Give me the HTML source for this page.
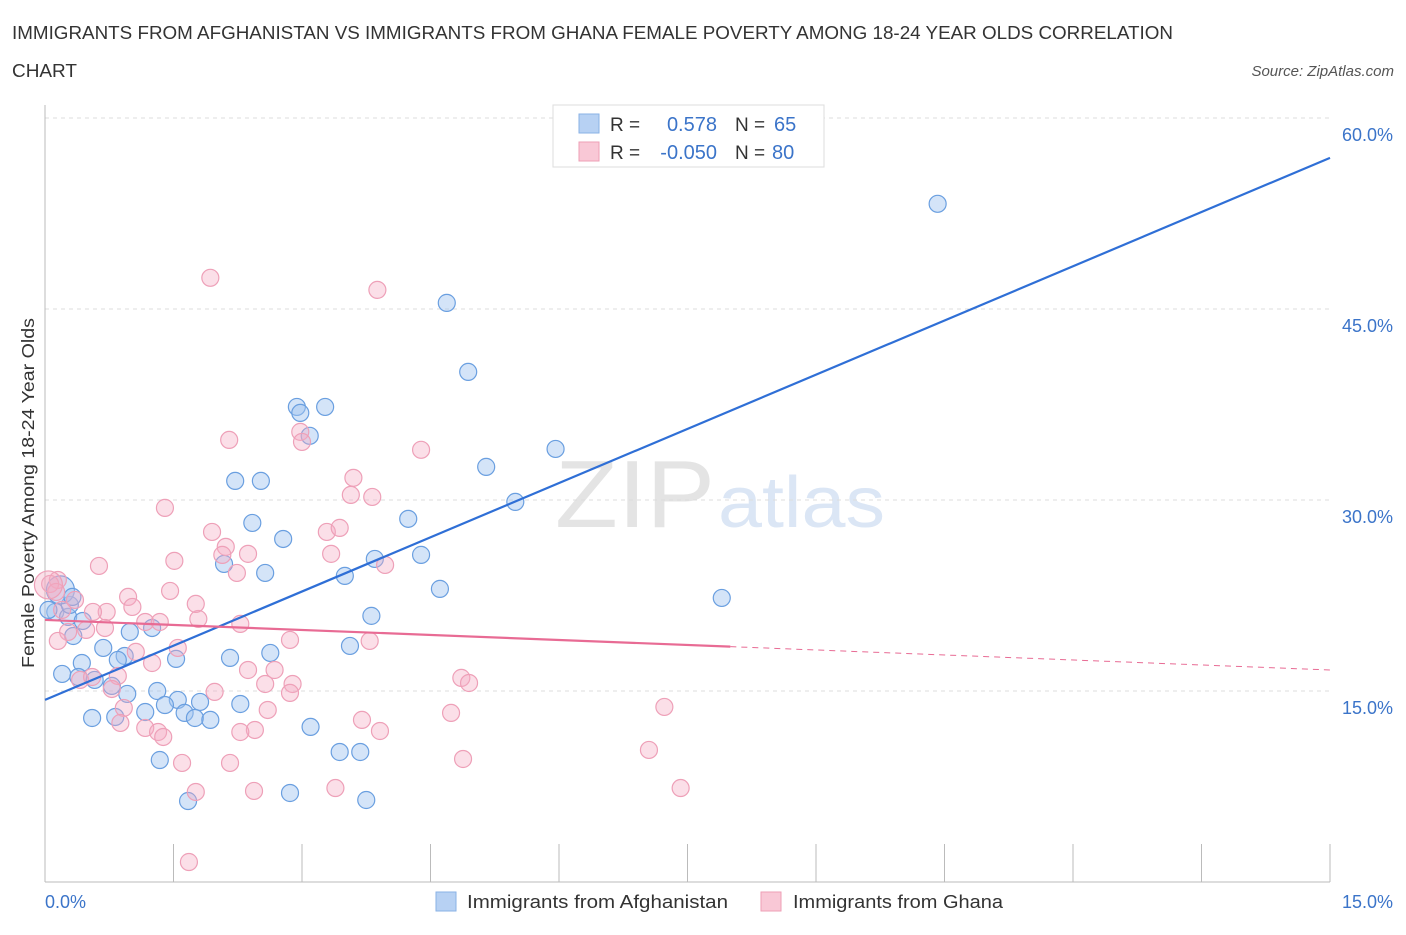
<!DOCTYPE html>
<html><head><meta charset="utf-8">
<style>
body{margin:0;background:#fff;font-family:"Liberation Sans",sans-serif;}
svg text{font-family:"Liberation Sans",sans-serif;}
</style></head>
<body>
<svg id="chart" width="1406" height="930" xmlns="http://www.w3.org/2000/svg">
<text x="12" y="39" font-size="18.5" fill="#333" textLength="1161" lengthAdjust="spacingAndGlyphs">IMMIGRANTS FROM AFGHANISTAN VS IMMIGRANTS FROM GHANA FEMALE POVERTY AMONG 18-24 YEAR OLDS CORRELATION</text>
<text x="12" y="77" font-size="18.5" fill="#333" textLength="65" lengthAdjust="spacingAndGlyphs">CHART</text>
<text x="1394" y="76" font-size="15" fill="#555" font-style="italic" text-anchor="end">Source: ZipAtlas.com</text>
<text x="555" y="527" font-size="96" fill="#e4e4e4" font-family="Liberation Serif" textLength="160" lengthAdjust="spacingAndGlyphs">ZIP</text>
<text x="718" y="527" font-size="72" fill="#dbe6f5" textLength="167" lengthAdjust="spacingAndGlyphs">atlas</text>
<g id="grid"></g>
<g id="axes"></g>
<g id="marks"></g>
<g id="lines"></g>
<text transform="translate(34,493) rotate(-90)" font-size="17.5" fill="#333" text-anchor="middle" textLength="350" lengthAdjust="spacingAndGlyphs">Female Poverty Among 18-24 Year Olds</text>
<text x="45" y="908" font-size="18" fill="#3b74c9">0.0%</text>
<text x="1393" y="908" font-size="18" fill="#3b74c9" text-anchor="end">15.0%</text>
<g>
<rect x="553" y="105" width="271" height="62" fill="#fff" stroke="#ddd"/>
<rect x="579" y="114" width="20" height="19" fill="#b7d1f3" stroke="#8ab2e6"/>
<rect x="579" y="142" width="20" height="19" fill="#f9c8d6" stroke="#ee9fb6"/>
<text x="610" y="131" font-size="19" fill="#333">R =</text>
<text x="717" y="131" font-size="20" fill="#3b74c9" text-anchor="end">0.578</text>
<text x="735" y="131" font-size="19" fill="#333">N =</text>
<text x="774" y="131" font-size="20" fill="#3b74c9">65</text>
<text x="610" y="159" font-size="19" fill="#333">R =</text>
<text x="717" y="159" font-size="20" fill="#3b74c9" text-anchor="end">-0.050</text>
<text x="735" y="159" font-size="19" fill="#333">N =</text>
<text x="772" y="159" font-size="20" fill="#3b74c9">80</text>
</g>
<g>
<rect x="436" y="892" width="20" height="19" fill="#b7d1f3" stroke="#8ab2e6"/>
<text x="467" y="908" font-size="18.5" fill="#333" textLength="261" lengthAdjust="spacingAndGlyphs">Immigrants from Afghanistan</text>
<rect x="761" y="892" width="20" height="19" fill="#f9c8d6" stroke="#ee9fb6"/>
<text x="793" y="908" font-size="18.5" fill="#333" textLength="210" lengthAdjust="spacingAndGlyphs">Immigrants from Ghana</text>
</g>
</svg>
<script>
const yTicks=[15,30,45,60];
const yTickLabels=["15.0%","30.0%","45.0%","60.0%"];
const xTicks=[0,1.5,3,4.5,6,7.5,9,10.5,12,13.5,15];
const blueX=[10.42,4.69,4.94,2.94,3.27,2.98,3.09,5.15,5.96,2.22,2.52,5.49,4.24,2.42,2.78,4.39,3.85,2.09,2.57,3.50,4.61,7.90,3.81,3.56,0.12,0.27,0.29,0.44,0.33,0.68,1.25,0.99,0.93,0.85,0.43,1.53,2.16,2.63,0.20,0.39,0.58,0.78,0.96,1.31,1.55,1.81,2.28,0.82,0.55,1.17,1.40,1.63,1.75,1.93,3.10,3.44,3.68,1.67,2.86,3.75,1.34,0.18,0.32,0.04];
const blueY=[53.26,45.48,40.06,37.31,37.31,36.84,35.04,32.60,34.01,31.50,31.50,29.85,28.52,28.20,26.94,25.69,25.37,24.98,24.27,24.04,23.02,22.31,20.90,18.54,21.21,20.82,21.76,20.50,19.32,18.38,19.95,19.64,17.75,17.44,17.20,17.52,17.60,17.99,16.34,16.10,15.87,15.40,14.77,15.00,14.30,14.14,13.98,12.96,12.88,13.35,13.90,13.28,12.88,12.73,12.18,10.21,10.21,6.36,6.99,6.44,9.58,22.94,22.39,21.37];
const pinkX=[1.93,3.88,2.98,3.00,2.15,4.39,3.60,3.57,3.82,1.40,1.95,2.11,2.07,2.37,3.29,3.44,3.34,3.97,2.24,1.51,0.63,0.97,1.02,0.72,0.56,0.15,0.06,0.13,0.35,0.20,0.27,0.15,0.70,0.48,1.17,1.34,1.06,1.25,1.55,1.79,2.28,1.46,1.76,2.86,3.79,2.68,2.57,2.89,2.86,1.98,2.37,0.41,0.55,0.85,0.78,0.92,0.88,1.17,1.32,1.38,2.60,2.45,2.28,3.70,3.91,4.74,4.86,4.95,7.23,7.05,4.88,1.60,2.16,3.39,2.44,1.76,7.42,1.68,0.04];
const pinkY=[47.45,46.50,35.35,34.56,34.72,33.94,31.74,30.40,30.24,29.38,27.49,26.32,25.69,25.77,27.49,27.81,25.77,24.90,24.27,25.22,24.82,22.39,21.60,21.21,21.21,23.72,23.41,22.78,22.15,21.37,19.64,18.93,19.95,19.80,20.42,20.42,18.07,17.20,18.38,20.66,20.27,22.86,21.84,19.01,18.93,16.65,15.55,15.55,14.85,14.93,16.65,15.87,16.10,16.18,15.16,13.67,12.49,12.10,11.78,11.39,13.51,11.94,11.78,12.73,11.86,13.28,16.03,15.63,13.75,10.37,9.66,9.35,9.35,7.38,7.15,7.07,7.38,1.57,23.33];
const blueTrend=[14.30,56.87];
const pinkTrend=[20.58,16.65];
const pinkSolidEnd=8.0;

const NS="http://www.w3.org/2000/svg";
const X0=45,X1=1330,Y0=882,Y60=118;
const sx=v=>X0+(v/15)*(X1-X0);
const sy=v=>Y0-(v/60)*(Y0-Y60);
function mk(tag,attrs,parent){const e=document.createElementNS(NS,tag);for(const k in attrs)e.setAttribute(k,attrs[k]);document.getElementById(parent).appendChild(e);return e;}

yTicks.forEach((t,i)=>{
  const g=mk('line',{x1:X0,x2:X1,y1:sy(t),y2:sy(t),stroke:'#ddd','stroke-dasharray':'4,4'},'grid');
  
  
  const l=mk('text',{x:1393,y:sy(t)+23,'font-size':18,fill:'#3b74c9','text-anchor':'end'},'grid');
  l.textContent=yTickLabels[i];
  
  
});
const ax=mk('line',{x1:X0,x2:X0,y1:105,y2:Y0,stroke:'#bbb'},'axes');


const bx=mk('line',{x1:X0,x2:X1,y1:Y0,y2:Y0,stroke:'#bbb'},'axes');


xTicks.forEach(t=>{
  const e=mk('line',{x1:sx(t),x2:sx(t),y1:Y0-38,y2:Y0,stroke:'#bbb'},'axes');
  
  
});
function pts(xs,ys,fill,stroke,name,bigIdx){
  xs.forEach((x,i)=>{
    const c=mk('circle',{cx:sx(x),cy:sy(ys[i]),r:i===bigIdx?14:8.5,fill:fill,stroke:stroke,'stroke-width':1.2},'marks');
    
    
  });
}
pts(blueX,blueY,'rgba(160,196,240,0.45)','#6a9fe0','afghanistan-point',61);
pts(pinkX,pinkY,'rgba(245,170,195,0.38)','#eea0b8','ghana-point',78);
const bl=mk('line',{x1:sx(0),y1:sy(blueTrend[0]),x2:sx(15),y2:sy(blueTrend[1]),stroke:'#2f6fd6','stroke-width':2.2},'lines');


const pAt=x=>pinkTrend[0]+(pinkTrend[1]-pinkTrend[0])*x/15;
const pl=mk('line',{x1:sx(0),y1:sy(pAt(0)),x2:sx(pinkSolidEnd),y2:sy(pAt(pinkSolidEnd)),stroke:'#e86b94','stroke-width':2.2},'lines');


const pd=mk('line',{x1:sx(pinkSolidEnd),y1:sy(pAt(pinkSolidEnd)),x2:sx(15),y2:sy(pAt(15)),stroke:'#e86b94','stroke-width':1,'stroke-dasharray':'6,5'},'lines');


</script>
</body></html>
